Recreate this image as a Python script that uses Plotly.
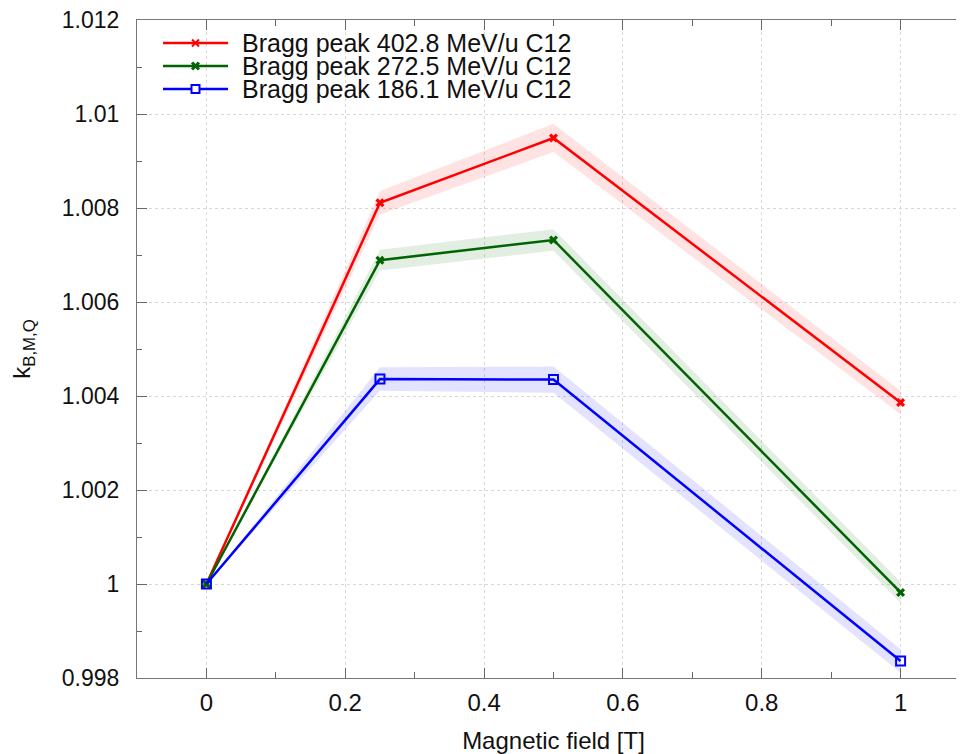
import plotly.graph_objects as go

# Data
field = [0.0, 0.25, 0.5, 1.0]
names = ["Bragg peak 402.8 MeV/u C12", "Bragg peak 272.5 MeV/u C12", "Bragg peak 186.1 MeV/u C12"]
k_402 = [1.0, 1.00811, 1.00949, 1.00386]
k_272 = [1.0, 1.00689, 1.00732, 0.99982]
k_186 = [1.0, 1.00436, 1.00435, 0.99836]
err_402 = [0.0, 0.00025, 0.0003, 0.00025]
err_272 = [0.0, 0.00022, 0.00023, 0.00022]
err_186 = [0.0, 0.00025, 0.00028, 0.00025]

x_ticks = [0, 0.2, 0.4, 0.6, 0.8, 1.0]
x_ticktext = ["0", "0.2", "0.4", "0.6", "0.8", "1"]
y_ticks = [0.998, 1.0, 1.002, 1.004, 1.006, 1.008, 1.01, 1.012]
y_ticktext = ["0.998", "1", "1.002", "1.004", "1.006", "1.008", "1.01", "1.012"]

colors = ["#ff0000", "#006400", "#0000ff"]
fills = ["rgba(255,0,0,0.11)", "rgba(0,100,0,0.11)", "rgba(0,0,255,0.11)"]
markers = [dict(symbol="x", size=8), dict(symbol="x", size=8),
           dict(symbol="square-open", size=9, line=dict(width=2))]
values = [k_402, k_272, k_186]
errors = [err_402, err_272, err_186]

# Page offset (browser body margin) compensation
OFF = 8
W, H = 964, 754
ML, MR, MT, MB = 137 - OFF, 2, 20 - OFF, 754 - (678 - OFF)
PW, PH = W - ML - MR, H - MT - MB

fig = go.Figure()
for y, e, fc in zip(values, errors, fills):
    upper = [a + b for a, b in zip(y, e)]
    lower = [a - b for a, b in zip(y, e)]
    fig.add_trace(go.Scatter(x=field, y=upper, mode="lines", line=dict(width=0),
                             showlegend=False, hoverinfo="skip"))
    fig.add_trace(go.Scatter(x=field, y=lower, mode="lines", line=dict(width=0),
                             fill="tonexty", fillcolor=fc,
                             showlegend=False, hoverinfo="skip"))
for name, y, col, mk in zip(names, values, colors, markers):
    fig.add_trace(go.Scatter(x=field, y=y, mode="lines+markers", name=name,
                             line=dict(color=col, width=2.5),
                             marker=dict(color=col, **mk), showlegend=False))

# Custom legend (decoration in paper coordinates; page pixel positions)
def px_x(p):
    return (p - OFF - ML) / PW

def px_y(p):
    return (H - MB - (p - OFF)) / PH

shapes = []
annotations = []
rows = [43, 66, 89]
for i, (name, col) in enumerate(zip(names, colors)):
    cy = rows[i]
    shapes.append(dict(type="line", xref="paper", yref="paper",
                       x0=px_x(163), x1=px_x(228), y0=px_y(cy), y1=px_y(cy),
                       line=dict(color=col, width=2.5)))
    cx = 195.5
    if i < 2:
        d = 3.5
        w = 2 if i == 0 else 3
        shapes.append(dict(type="line", xref="paper", yref="paper",
                           x0=px_x(cx - d), x1=px_x(cx + d), y0=px_y(cy - d), y1=px_y(cy + d),
                           line=dict(color=col, width=w)))
        shapes.append(dict(type="line", xref="paper", yref="paper",
                           x0=px_x(cx - d), x1=px_x(cx + d), y0=px_y(cy + d), y1=px_y(cy - d),
                           line=dict(color=col, width=w)))
    else:
        d = 4
        shapes.append(dict(type="rect", xref="paper", yref="paper",
                           x0=px_x(cx - d), x1=px_x(cx + d), y0=px_y(cy - d), y1=px_y(cy + d),
                           line=dict(color=col, width=2), fillcolor="white"))
    annotations.append(dict(xref="paper", yref="paper", x=px_x(240), y=px_y(cy),
                            xanchor="left", yanchor="middle", showarrow=False,
                            text=name,
                            font=dict(family="Liberation Sans, Arial, sans-serif", size=25, color="#111")))

font = dict(family="Liberation Sans, Arial, sans-serif", size=24, color="#111")
yfont = dict(family="Liberation Sans, Arial, sans-serif", size=23, color="#111")
tfont = dict(family="Liberation Sans, Arial, sans-serif", size=24, color="#111")
axis_common = dict(
    showline=True, linecolor="#777", linewidth=1.2, mirror="ticks",
    ticks="inside", ticklen=10, tickcolor="#666", tickwidth=1,
    showgrid=True, gridcolor="#d8d8d8", griddash="dot", gridwidth=1,
    zeroline=False, automargin=False, ticklabeloverflow="allow",
)
fig.update_xaxes(range=[-0.1, 1.1], tickvals=x_ticks, ticktext=x_ticktext, tickfont=font,
                 minor=dict(dtick=0.1, ticks="inside", ticklen=6, tickcolor="#666", showgrid=False),
                 title=dict(text="Magnetic field [T]", font=tfont, standoff=17),
                 ticklabelstandoff=3, **axis_common)
fig.update_yaxes(range=[0.998, 1.0120001], tickvals=y_ticks, ticktext=y_ticktext, tickfont=yfont,
                 minor=dict(dtick=0.001, ticks="inside", ticklen=5, tickcolor="#666", showgrid=False),
                 title=dict(text="k<sub>B,M,Q</sub>", font=tfont, standoff=26),
                 ticklabelstandoff=12, **axis_common)

fig.update_layout(
    width=W, height=H,
    margin=dict(l=ML, r=MR, t=MT, b=MB),
    plot_bgcolor="white", paper_bgcolor="white",
    font=font, showlegend=False,
    shapes=shapes, annotations=annotations,
)
fig.write_html("out.html")
